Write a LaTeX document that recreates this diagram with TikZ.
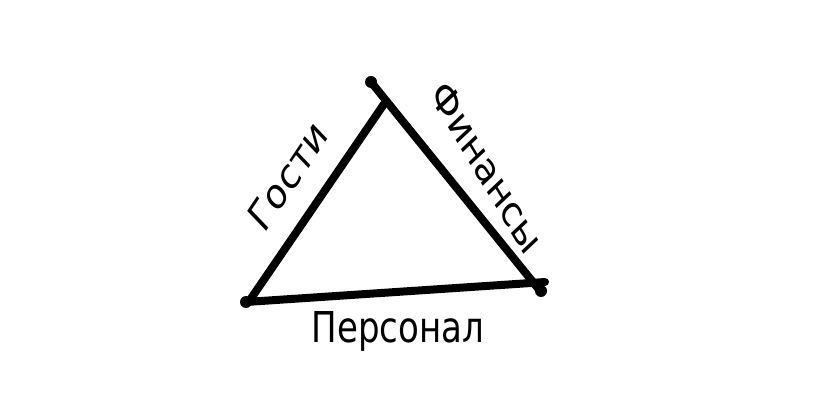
\documentclass[tikz,border=0pt]{standalone}
\usepackage{fontspec}
\setmainfont{DejaVu Sans}
\begin{document}
\begin{tikzpicture}[x=1pt,y=-1pt,
  edge/.style={line width=8pt,line cap=round,black},
  blob/.style={circle,fill=black,inner sep=0pt,minimum size=12pt},
  lbl/.style={font=\fontsize{34}{36}\selectfont,inner sep=0pt,yscale=1.25}]
\useasboundingbox (0,0) rectangle (814,419);
\coordinate (T1) at (371,82);
\coordinate (T2) at (384,104);
\coordinate (L) at (250,300);
\coordinate (L0) at (246,302);
\coordinate (R) at (531,283);
\coordinate (R0) at (541,292);
\draw[edge] (T2) -- (L);
\draw[edge] (T1) -- (R0);
\draw[edge] (L0) -- (R);
\draw[edge] (R) -- (545,282);
\node[blob] (b1) at (371,82) {};
\node[blob] (b2) at (246,302) {};
\node[blob] (b3) at (541,291) {};
\node[lbl,rotate=50] (g) at (288,176) {Гости};
\node[lbl,rotate=-53] (f) at (487,167) {Финансы};
\node[lbl] (p) at (398,331) {Персонал};
\end{tikzpicture}
\end{document}
